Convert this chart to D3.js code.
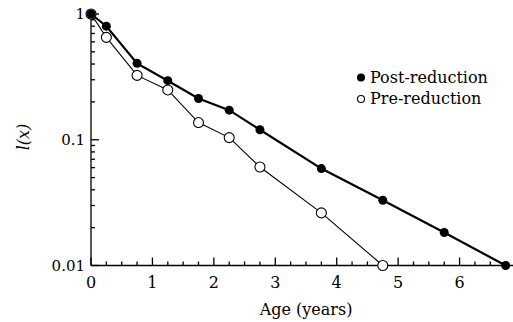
<!doctype html>
<html>
<head>
<meta charset="utf-8">
<title>Survivorship</title>
<script src="https://d3js.org/d3.v7.min.js"></script>
<style>
  body { margin: 0; background: #fff; }
  svg { font-family: "DejaVu Serif", serif; }
  .axis path, .axis line { stroke: #000; stroke-width: 1.3px; }
</style>
</head>
<body>
<script>
// ages (years) and l(x)
var ages = [0, 0.25, 0.75, 1.25, 1.75, 2.25, 2.75, 3.75, 4.75, 5.75, 6.75];
var postReduction = [1, 0.80, 0.405, 0.295, 0.213, 0.172, 0.12, 0.059, 0.033, 0.0183, 0.01];
var preAges = [0, 0.25, 0.75, 1.25, 1.75, 2.25, 2.75, 3.75, 4.75];
var preReduction = [1, 0.652, 0.325, 0.249, 0.137, 0.104, 0.0607, 0.0262, 0.01];
var xTicks = [0, 1, 2, 3, 4, 5, 6];
var yTicks = [0.01, 0.1, 1];
var yTickLabels = ["0.01", "0.1", "1"];

var w = 513, h = 322;

var svg = d3.select("body")
    .append("svg")
    .attr("width", w)
    .attr("height", h);

var x = d3.scaleLinear().domain([0, 7]).range([91, 521]);
var y = d3.scaleLog().domain([0.01, 1]).range([265.5, 14]);

// minor ticks
var xMinor = d3.range(0, 6.76, 0.25).filter(function(d) { return d % 1 !== 0; });
var yMinor = [];
[0.01, 0.1].forEach(function(b) {
  for (var k = 2; k <= 9; k++) yMinor.push(b * k);
});

// x axis
var gx = svg.append("g").attr("class", "axis");
gx.append("line")
    .attr("x1", x(0)).attr("x2", w)
    .attr("y1", y(0.01)).attr("y2", y(0.01));
gx.selectAll(".maj").data(xTicks).enter().append("line")
    .attr("x1", function(d) { return x(d); })
    .attr("x2", function(d) { return x(d); })
    .attr("y1", y(0.01)).attr("y2", y(0.01) - 8);
gx.selectAll(".min").data(xMinor).enter().append("line")
    .attr("x1", function(d) { return x(d); })
    .attr("x2", function(d) { return x(d); })
    .attr("y1", y(0.01)).attr("y2", y(0.01) - 4);
gx.selectAll("text").data(xTicks).enter().append("text")
    .attr("x", function(d) { return x(d); })
    .attr("y", 288)
    .attr("text-anchor", "middle")
    .attr("font-size", 16)
    .text(function(d) { return d; });

// y axis
var gy = svg.append("g").attr("class", "axis");
gy.append("line")
    .attr("x1", x(0)).attr("x2", x(0))
    .attr("y1", 12).attr("y2", y(0.01));
gy.selectAll(".maj").data(yTicks).enter().append("line")
    .attr("x1", x(0)).attr("x2", x(0) + 8)
    .attr("y1", function(d) { return y(d); })
    .attr("y2", function(d) { return y(d); });
gy.selectAll(".min").data(yMinor).enter().append("line")
    .attr("x1", x(0)).attr("x2", x(0) + 4)
    .attr("y1", function(d) { return y(d); })
    .attr("y2", function(d) { return y(d); });
gy.selectAll("text").data(yTicks).enter().append("text")
    .attr("x", 85)
    .attr("y", function(d) { return y(d) + 5; })
    .attr("text-anchor", "end")
    .attr("font-size", 15)
    .text(function(d, i) { return yTickLabels[i]; });

// axis titles
svg.append("text")
    .attr("x", 306).attr("y", 315)
    .attr("text-anchor", "middle")
    .attr("font-size", 16)
    .text("Age (years)");
svg.append("text")
    .attr("transform", "translate(29,137) rotate(-90)")
    .attr("text-anchor", "middle")
    .attr("font-size", 16)
    .attr("font-style", "italic")
    .text("l(x)");

var line = d3.line()
    .x(function(d) { return x(d[0]); })
    .y(function(d) { return y(d[1]); });

var pre = d3.zip(preAges, preReduction);
var post = d3.zip(ages, postReduction);

svg.append("path").datum(pre)
    .attr("d", line).attr("fill", "none")
    .attr("stroke", "#000").attr("stroke-width", 1.1);
svg.append("path").datum(post)
    .attr("d", line).attr("fill", "none")
    .attr("stroke", "#000").attr("stroke-width", 2.2);

svg.selectAll(".pre").data(pre).enter().append("circle")
    .attr("cx", function(d) { return x(d[0]); })
    .attr("cy", function(d) { return y(d[1]); })
    .attr("r", 5)
    .attr("fill", "#fff").attr("stroke", "#000").attr("stroke-width", 1.1);
svg.selectAll(".post").data(post).enter().append("circle")
    .attr("cx", function(d) { return x(d[0]); })
    .attr("cy", function(d) { return y(d[1]); })
    .attr("r", 4.5)
    .attr("fill", "#000");

// legend
var legend = svg.append("g");
legend.append("circle").attr("cx", 361).attr("cy", 77.5).attr("r", 4).attr("fill", "#000");
legend.append("circle").attr("cx", 361).attr("cy", 99).attr("r", 3.5)
    .attr("fill", "#fff").attr("stroke", "#000").attr("stroke-width", 1.1);
legend.append("text").attr("x", 370).attr("y", 83).attr("font-size", 16).text("Post-reduction");
legend.append("text").attr("x", 370).attr("y", 104).attr("font-size", 16).text("Pre-reduction");
</script>
</body>
</html>
